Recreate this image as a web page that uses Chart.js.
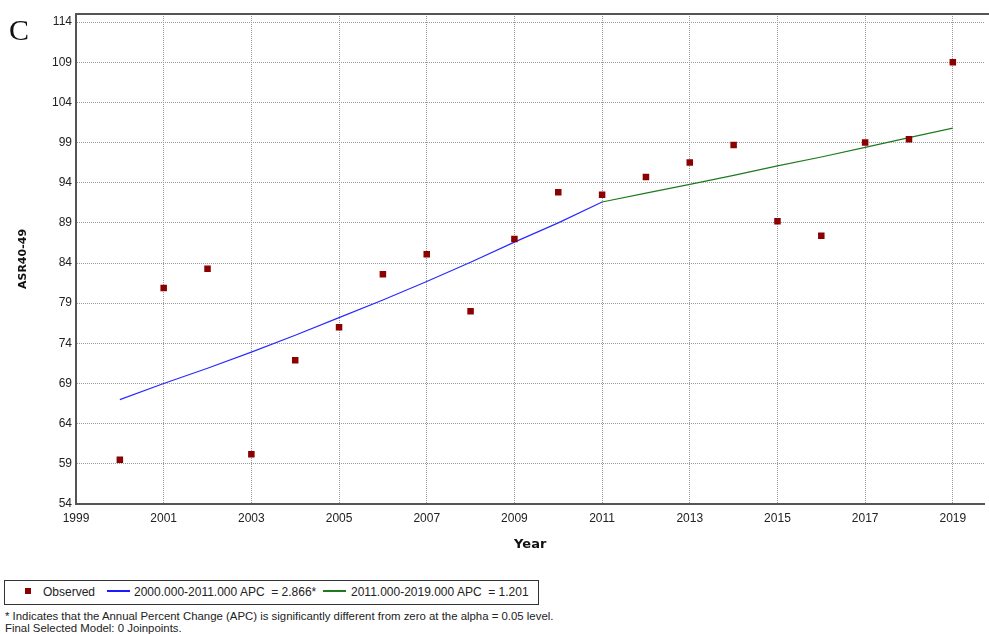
<!DOCTYPE html>
<html>
<head>
<meta charset="utf-8">
<script src="https://cdn.jsdelivr.net/npm/chart.js@4.4.0/dist/chart.umd.min.js"></script>
<style>
    body { margin: 0; background: #fff; font-family: "Liberation Sans", Arial, sans-serif; }
    #wrap { position: relative; width: 989px; height: 634px; overflow: hidden; }
    #box { position: absolute; left: 0; top: 0; width: 989px; height: 560px; }
    #panel { position: absolute; left: 9px; top: 13px; font: 30px "Liberation Serif", "Times New Roman", serif; color: #111; }
    #legend { position: absolute; left: 4px; top: 580px; width: 533px; height: 23px; border: 1px solid #333; font-size: 12px; color: #222; }
    #legend span { position: absolute; top: 4px; white-space: pre; }
    #legend i { position: absolute; display: block; }
    .note { position: absolute; left: 5px; font-size: 11.4px; color: #222; white-space: pre; }
</style>
</head>
<body>
<div id="wrap">
    <div id="box"><canvas id="myChart"></canvas></div>
    <div id="panel">C</div>
    <div id="legend">
        <i style="left:20px; top:7px; width:6px; height:6px; background:#8b0000;"></i>
        <span style="left:38px;">Observed</span>
        <i style="left:102px; top:9px; width:23px; height:2px; background:#1a1aff;"></i>
        <span style="left:129px;">2000.000-2011.000 APC  = 2.866*</span>
        <i style="left:318px; top:9px; width:23px; height:2px; background:#1f7a1f;"></i>
        <span style="left:346px;">2011.000-2019.000 APC  = 1.201</span>
    </div>
    <div class="note" style="top:610px;">* Indicates that the Annual Percent Change (APC) is significantly different from zero at the alpha = 0.05 level.</div>
    <div class="note" style="top:622px;">Final Selected Model: 0 Joinpoints.</div>
</div>
<script>
// observed rates
const years = [2000, 2001, 2002, 2003, 2004, 2005, 2006, 2007, 2008, 2009,
               2010, 2011, 2012, 2013, 2014, 2015, 2016, 2017, 2018, 2019];
const observed = [59.5, 80.9, 83.3, 60.2, 71.9, 76.0, 82.6, 85.1, 78.0, 87.0,
                  92.8, 92.5, 94.7, 96.5, 98.7, 89.2, 87.4, 99.0, 99.4, 109.0];

// fitted segments
const blueYears = [2000, 2001, 2002, 2003, 2004, 2005, 2006, 2007, 2008, 2009, 2010, 2011];
const blueFit = [67.0, 69.0, 70.9, 72.9, 75.0, 77.2, 79.4, 81.7, 84.1, 86.6, 89.0, 91.6];
const greenYears = [2011, 2012, 2013, 2014, 2015, 2016, 2017, 2018, 2019];
const greenFit = [91.6, 92.7, 93.8, 94.9, 96.1, 97.2, 98.4, 99.6, 100.8];

const xTicks = [1999, 2001, 2003, 2005, 2007, 2009, 2011, 2013, 2015, 2017, 2019];
const yTicks = [54, 59, 64, 69, 74, 79, 84, 89, 94, 99, 104, 109, 114];

const toXY = (xs, ys) => xs.map((x, i) => ({ x: x, y: ys[i] }));

const tickFont = { family: "'Liberation Sans', Arial, sans-serif", size: 12 };
const titleFamily = "'DejaVu Sans', Verdana, sans-serif";

// top frame line of the plot
const frameTop = {
    id: 'frameTop',
    afterDraw(chart) {
        const a = chart.chartArea;
        const ctx = chart.ctx;
        ctx.save();
        ctx.strokeStyle = '#555';
        ctx.lineWidth = 2;
        ctx.beginPath();
        ctx.moveTo(a.left, a.top);
        ctx.lineTo(chart.width, a.top);
        ctx.stroke();
        ctx.restore();
    }
};

const ctx = document.getElementById("myChart").getContext("2d");
new Chart(ctx, {
    type: "scatter",
    data: {
        datasets: [
            {
                label: "Observed",
                data: toXY(years, observed),
                backgroundColor: "#8b0000",
                borderColor: "#8b0000",
                pointStyle: "rect",
                pointRadius: 4.6,
                borderWidth: 0,
                showLine: false
            },
            {
                label: "2000.000-2011.000 APC  = 2.866*",
                data: toXY(blueYears, blueFit),
                borderColor: "#2a2aff",
                borderWidth: 1.2,
                pointRadius: 0,
                showLine: true
            },
            {
                label: "2011.000-2019.000 APC  = 1.201",
                data: toXY(greenYears, greenFit),
                borderColor: "#1f7a1f",
                borderWidth: 1.2,
                pointRadius: 0,
                showLine: true
            }
        ]
    },
    options: {
        responsive: true,
        maintainAspectRatio: false,
        animation: false,
        layout: { padding: { top: 14, right: 0, left: 0, bottom: 0 } },
        plugins: {
            legend: { display: false },
            tooltip: { enabled: false }
        },
        scales: {
            x: {
                type: "linear",
                min: 1999,
                max: 2019.72,
                afterBuildTicks: scale => { scale.ticks = xTicks.map(v => ({ value: v })); },
                afterFit: scale => { scale.height = 56; },
                ticks: { font: tickFont, color: "#222", padding: 7, maxRotation: 0, autoSkip: false, callback: v => String(v) },
                grid: { color: "#9a9a9a", lineWidth: 1, drawTicks: false },
                border: { display: true, color: "#555", width: 2, dash: [1, 1] },
                title: {
                    display: true,
                    text: "Year",
                    color: "#111",
                    font: { family: titleFamily, size: 13, weight: "bold" },
                    padding: { top: 4, bottom: 8 }
                }
            },
            y: {
                min: 54,
                max: 115,
                afterBuildTicks: scale => { scale.ticks = yTicks.map(v => ({ value: v })); },
                afterFit: scale => { scale.width = 76; },
                ticks: { font: tickFont, color: "#222", padding: 4, autoSkip: false },
                grid: { color: "#9a9a9a", lineWidth: 1, drawTicks: false },
                border: { display: true, color: "#555", width: 2, dash: [1, 1] },
                title: {
                    display: true,
                    text: "ASR40-49",
                    color: "#111",
                    font: { family: titleFamily, size: 11, weight: "bold" },
                    padding: { top: 17, bottom: 0 }
                }
            }
        }
    },
    plugins: [frameTop]
});
</script>
</body>
</html>
